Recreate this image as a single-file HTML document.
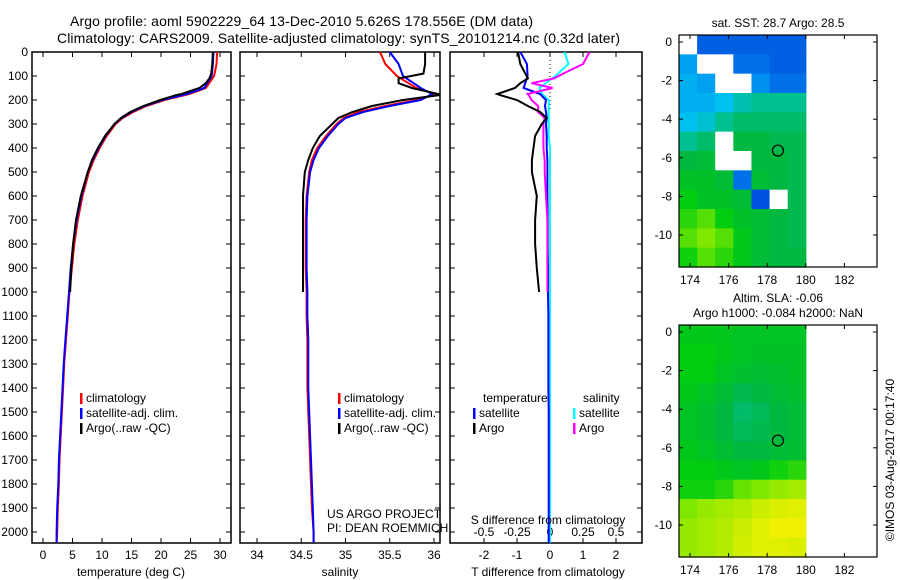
<!DOCTYPE html>
<html><head><meta charset="utf-8"><style>
body{margin:0;background:#fff}
svg{display:block;font-family:"Liberation Sans",sans-serif}
</style></head><body>
<svg id="fig" width="900" height="580" viewBox="0 0 900 580" xmlns="http://www.w3.org/2000/svg">
<text x="70" y="26" font-size="14" textLength="463">Argo profile: aoml 5902229_64 13-Dec-2010 5.626S 178.556E (DM data)</text>
<text x="57" y="43" font-size="14" textLength="563">Climatology: CARS2009. Satellite-adjusted climatology: synTS_20101214.nc (0.32d later)</text>
<g id="plots"></g>
</svg>
<script>
// ---- data ----
const depthT = [0,50,100,150,175,200,225,250,275,300,350,400,450,500,600,700,800,900,1000,1100,1200,1300,1400,1500,1600,1700,1800,1900,2000,2045];
const tempClim = [29.5,29.4,29.0,27.6,24.8,20.6,17.5,15.3,13.5,12.3,10.8,9.6,8.6,7.8,6.7,5.9,5.3,4.9,4.5,4.2,3.9,3.6,3.4,3.2,3.0,2.8,2.7,2.5,2.4,2.3];
const tempSat  = [28.9,28.8,28.6,27.3,24.4,20.2,17.2,15.0,13.3,12.1,10.6,9.4,8.4,7.6,6.5,5.7,5.1,4.7,4.4,4.1,3.8,3.5,3.3,3.1,2.9,2.7,2.6,2.4,2.3,2.3];
const depthA = [0,50,90,110,130,150,175,180,200,225,250,275,300,350,400,450,500,600,700,800,900,1000];
const tempArgo = [28.8,28.7,28.5,28.2,27.6,26.5,23.5,22.5,19.9,17.0,14.8,13.2,12.1,10.5,9.3,8.3,7.6,6.4,5.6,5.1,4.8,4.6];
const salClim = [35.39,35.45,35.58,35.8,36.02,35.8,35.45,35.15,34.98,34.9,34.78,34.68,34.62,34.59,34.56,34.55,34.55,34.55,34.56,34.56,34.57,34.57,34.57,34.58,34.59,34.6,34.61,34.62,34.64,34.64];
const salSat  = [35.5,35.6,35.65,35.85,35.98,35.85,35.5,35.2,35.0,34.92,34.8,34.7,34.64,34.6,34.57,34.56,34.56,34.56,34.57,34.57,34.58,34.58,34.58,34.59,34.6,34.61,34.62,34.63,34.64,34.64];
const salArgo = [35.9,35.9,35.88,35.6,35.6,35.75,36.05,36.05,35.65,35.3,35.08,34.92,34.85,34.71,34.63,34.58,34.54,34.52,34.52,34.52,34.52,34.52];
const dTArgo = [-0.97,-0.9,-0.75,-0.67,-0.9,-1.06,-1.6,-1.5,-1.0,-0.67,-0.3,-0.1,-0.25,-0.45,-0.5,-0.55,-0.55,-0.4,-0.45,-0.45,-0.4,-0.33];
const dTSat = [-0.9,-0.7,-0.68,-0.8,-0.3,-0.12,-0.15,-0.12,-0.1,-0.12,-0.1,-0.1,-0.08,-0.08,-0.08,-0.07,-0.07,-0.06,-0.06,-0.05,-0.05,-0.05,-0.05,-0.04,-0.04,-0.04,-0.04,-0.04,-0.04,-0.04];
const dSArgo = [0.3,0.25,0.1,0.03,-0.14,0.02,-0.17,-0.16,-0.14,-0.09,-0.09,-0.04,-0.05,-0.05,-0.05,-0.04,-0.04,-0.03,-0.02,-0.02,-0.02,-0.02];
const dSSat = [0.11,0.14,0.04,-0.08,-0.06,-0.01,-0.01,-0.01,-0.01,-0.01,-0.01,0,0,0,0,0,0,0,0,0,0,0,0,0,0,0,0,0,0,0];
const depthTicks = [0,100,200,300,400,500,600,700,800,900,1000,1100,1200,1300,1400,1500,1600,1700,1800,1900,2000];
const tTicks = [0,5,10,15,20,25,30];
const sTicks = [34,34.5,35,35.5,36];
const dTTicks = [-2,-1,0,1,2];
const dSTicks = [-0.5,-0.25,0,0.25,0.5];
const dSLabels = ["-0.5","-0.25","0","0.25","0.5"];
const lonTicks = [174,176,178,180,182];
const latTicks = [0,-2,-4,-6,-8,-10];
const floatLon = 178.556, floatLat = -5.626;
const sstGrid = [
[-1,0.05,0.05,0.05,0.05,0.05,0.05],
[0.25,-1,-1,0.1,0.1,0.05,0.05],
[0.3,0.25,-1,-1,0.2,0.1,0.1],
[0.3,0.3,0.35,0.45,0.5,0.5,0.5],
[0.35,0.4,0.5,0.55,0.55,0.55,0.55],
[0.5,0.55,-1,0.6,0.6,0.58,0.58],
[0.6,0.62,-1,-1,0.6,0.6,0.58],
[0.65,0.65,0.62,0.1,0.62,0.6,0.58],
[0.7,0.65,0.65,0.62,0.0,-1,0.58],
[0.75,0.8,0.7,0.65,0.62,0.6,0.58],
[0.8,0.85,0.8,0.68,0.62,0.6,0.58],
[0.72,0.8,0.75,0.68,0.62,0.6,0.6]];
const slaGrid = [
[.68,.68,.67,.66,.66,.66,.66],
[.7,.7,.68,.66,.65,.65,.65],
[.7,.7,.66,.64,.63,.64,.65],
[.68,.66,.62,.58,.6,.62,.64],
[.66,.64,.6,.55,.57,.6,.62],
[.66,.64,.6,.57,.58,.6,.62],
[.68,.66,.63,.6,.6,.62,.63],
[.7,.7,.68,.66,.68,.72,.75],
[.72,.72,.75,.82,.85,.88,.9],
[.85,.88,.9,.92,.95,.97,.98],
[.88,.9,.92,.95,.98,1,1],
[.88,.9,.92,.96,.98,.98,.97]];

// ---- drawing ----
const NS="http://www.w3.org/2000/svg";
const root=document.getElementById('plots');
function mk(tag,attrs,parent){const e=document.createElementNS(NS,tag);for(const k in attrs)e.setAttribute(k,attrs[k]);(parent||root).appendChild(e);return e;}
const Y0=52, PPD=0.24, BOT=543;
const yD=d=>Y0+d*PPD;
function frame(x0,x1,name,leftLabels){
  const g=mk('g',{});
  
  
  mk('rect',{x:x0,y:Y0,width:x1-x0,height:BOT-Y0,fill:'none',stroke:'#000','stroke-width':1.5},g);
  depthTicks.forEach((d,i)=>{
    mk('line',{x1:x0,x2:x0+5,y1:yD(d),y2:yD(d),stroke:'#000'},g);
    mk('line',{x1:x1,x2:x1-5,y1:yD(d),y2:yD(d),stroke:'#000'},g);
    if(leftLabels){const t=mk('text',{x:28,y:yD(d)+4,'font-size':12,'text-anchor':'end'},g);t.textContent=d;
      
      }
  });
  return g;
}
function xticks(g,ticks,labels,fx,ly){
  ticks.forEach((v,i)=>{const x=fx(v);
    mk('line',{x1:x,x2:x,y1:Y0,y2:Y0+5,stroke:'#000'},g);
    mk('line',{x1:x,x2:x,y1:BOT,y2:BOT-5,stroke:'#000'},g);
    const t=mk('text',{x:x,y:ly,'font-size':12,'text-anchor':'middle'},g);t.textContent=labels[i];
    
    });
}
function line(g,xs,ds,fx,color,name,w){
  const pts=xs.map((v,i)=>fx(v).toFixed(1)+','+yD(ds[i]).toFixed(1)).join(' ');
  const p=mk('polyline',{points:pts,fill:'none',stroke:color,'stroke-width':w||2},g);
  
  
}
function txt(g,x,y,s,name,size,anchor){const t=mk('text',{x:x,y:y,'font-size':size||12,'text-anchor':anchor||'start'},g);t.textContent=s;
  
  return t;}
function legend(g,x,y,items){items.forEach((it,i)=>{
  mk('rect',{x:x,y:y+i*15-9,width:2.5,height:11,fill:it[0]},g);
  txt(g,x+6,y+i*15,it[1],'legend-entry');});}

// Panel 1: temperature
const fxT=v=>43+v*5.9;
const g1=frame(32,231,'temperature-panel',true);
xticks(g1,tTicks,tTicks,fxT,559);
line(g1,tempClim,depthT,fxT,'#f00','temp-climatology-line');
line(g1,tempSat,depthT,fxT,'#00f','temp-satellite-line');
line(g1,tempArgo,depthA,fxT,'#000','temp-argo-line');
txt(g1,131,576,'temperature (deg C)','x-axis-title',12,'middle');
legend(g1,80,402,[['#f00','climatology'],['#00f','satellite-adj. clim.'],['#000','Argo(..raw -QC)']]);

// Panel 2: salinity
const fxS=v=>257+(v-34)*88.5;
const g2=frame(240,440,'salinity-panel',false);
xticks(g2,sTicks,sTicks,fxS,559);
line(g2,salClim,depthT,fxS,'#f00','sal-climatology-line');
line(g2,salSat,depthT,fxS,'#00f','sal-satellite-line');
line(g2,salArgo,depthA,fxS,'#000','sal-argo-line');
txt(g2,340,576,'salinity','x-axis-title',12,'middle');
legend(g2,338,402,[['#f00','climatology'],['#00f','satellite-adj. clim.'],['#000','Argo(..raw -QC)']]);
txt(g2,327,518,'US ARGO PROJECT','project-label');
txt(g2,327,532,'PI: DEAN ROEMMICH','pi-label');

// Panel 3: differences
const fxDT=v=>550+v*33;
const fxDS=v=>550+v*132;
const g3=frame(450,642,'difference-panel',false);
xticks(g3,dTTicks,dTTicks,fxDT,559);
dSTicks.forEach((v,i)=>txt(g3,fxDS(v),536,dSLabels[i],'s-diff-tick-label',12,'middle'));
mk('line',{x1:fxDT(0),x2:fxDT(0),y1:Y0,y2:110,stroke:'#000','stroke-dasharray':'1,3'},g3);
line(g3,dSSat,depthT,fxDS,'#0ff','sdiff-satellite-line');
line(g3,dTSat,depthT,fxDT,'#00f','tdiff-satellite-line');
line(g3,dSArgo,depthA,fxDS,'#f0f','sdiff-argo-line');
line(g3,dTArgo,depthA,fxDT,'#000','tdiff-argo-line');
txt(g3,548,576,'T difference from climatology','x-axis-title',12,'middle');
txt(g3,548,524,'S difference from climatology','s-diff-axis-title',12,'middle');
txt(g3,483,402,'temperature','legend-header');
txt(g3,583,402,'salinity','legend-header');
legend(g3,473,417,[['#00f','satellite'],['#000','Argo']]);
legend(g3,573,417,[['#0ff','satellite'],['#f0f','Argo']]);

// Maps
const stops=[[0,[0,80,224]],[0.2,[0,144,240]],[0.35,[0,192,240]],[0.5,[0,192,144]],[0.6,[0,184,64]],[0.7,[0,204,16]],[0.85,[128,232,0]],[1,[240,240,0]]];
function cmap(v){if(v<0)return '#fff';for(let i=1;i<stops.length;i++){if(v<=stops[i][0]){const a=stops[i-1],b=stops[i],t=(v-a[0])/(b[0]-a[0]);return 'rgb('+a[1].map((c,k)=>Math.round(c+(b[1][k]-c)*t)).join(',')+')';}}return 'rgb(240,240,0)';}
function map(top,grid,name,t1,t2){
  const x0=679,x1=877,PPG=19.3,lat0=top+7;
  const fx=lon=>690+(lon-174)*PPG, fy=lat=>lat0-lat*PPG;
  const g=mk('g',{});
  
  
  const dx=(fx(180)-x0)/grid[0].length, dy=(top+232-top)/grid.length;
  grid.forEach((row,r)=>row.forEach((v,c)=>{
    const cell=mk('rect',{x:x0+c*dx,y:top+r*dy,width:dx+0.6,height:dy+0.6,fill:cmap(v)},g);
    
    
  }));
  mk('rect',{x:x0,y:top,width:x1-x0,height:232,fill:'none',stroke:'#000','stroke-width':1.2},g);
  lonTicks.forEach(l=>{mk('line',{x1:fx(l),x2:fx(l),y1:top,y2:top+4,stroke:'#000'},g);mk('line',{x1:fx(l),x2:fx(l),y1:top+232,y2:top+228,stroke:'#000'},g);
    txt(g,fx(l),top+249,l,'lon-tick-label',12,'middle');});
  latTicks.forEach(l=>{mk('line',{x1:x0,x2:x0+4,y1:fy(l),y2:fy(l),stroke:'#000'},g);mk('line',{x1:x1,x2:x1-4,y1:fy(l),y2:fy(l),stroke:'#000'},g);
    txt(g,672,fy(l)+4,l,'lat-tick-label',12,'end');});
  const c=mk('circle',{cx:fx(floatLon),cy:fy(floatLat),r:5.5,fill:'none',stroke:'#000','stroke-width':1.2},g);
  
  
  txt(g,778,t1[1],t1[0],'map-title',12,'middle');
  if(t2)txt(g,778,t2[1],t2[0],'map-subtitle',12,'middle');
}
map(35,sstGrid,'sst-map',['sat. SST: 28.7 Argo: 28.5',27]);
map(325,slaGrid,'sla-map',['Altim. SLA: -0.06',302],['Argo h1000: -0.084 h2000: NaN',317]);
const cr=txt(root,0,0,'©IMOS 03-Aug-2017 00:17:40','timestamp-label',12,'middle');
cr.setAttribute('transform','translate(894,460) rotate(-90)');
</script>
</body></html>
